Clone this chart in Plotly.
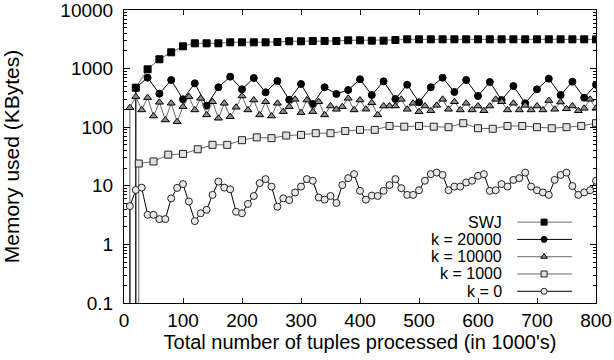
import plotly.graph_objects as go

# ---------------- data ----------------
swj_x = list(range(20, 801, 20))
swj_y = [472, 973, 1442, 1897, 2402, 2702, 2702, 2702, 2810, 2810,
         2810, 2810, 2845, 2925, 2925, 2960, 2960, 2960, 3040, 3040,
         2995, 2995, 3075, 3160, 3160, 3160, 3160, 3160, 3160, 3160,
         3160, 3160, 3160, 3160, 3160, 3160, 3160, 3160, 3160, 3160]

k20000_x = list(range(20, 801, 20))
k20000_y = [472, 700, 373, 639, 299, 561, 233, 480, 728, 443,
            691, 394, 614, 294, 546, 249, 480, 369, 431, 657,
            354, 607, 303, 531, 266, 480, 700, 399, 639, 341,
            590, 291, 505, 256, 443, 673, 354, 598, 319, 531]

k10000_x = list(range(10, 801, 10))
k10000_y = [215, 332, 197, 319, 155, 266, 133, 256, 124, 224,
            332, 197, 311, 162, 272, 142, 256, 151, 219, 341,
            197, 291, 162, 272, 155, 256, 184, 224, 299, 177,
            291, 184, 272, 162, 230, 202, 224, 311, 197, 291,
            203, 262, 162, 230, 230, 230, 299, 202, 256, 184,
            230, 191, 236, 299, 202, 272, 197, 256, 197, 230,
            191, 230, 299, 272, 197, 256, 197, 236, 197, 230,
            197, 285, 202, 269, 206, 230, 191, 210, 299, 210]

k1000_x = list(range(25, 801, 25))
k1000_y = [24, 26, 34, 35, 42, 50, 50, 60, 67, 65,
           72, 74, 79, 79, 86, 90, 90, 105, 102, 105,
           102, 100, 117, 96, 94, 105, 105, 100, 96, 100,
           105, 117]

k0_x = list(range(10, 801, 10))
k0_y = [4.5, 8.5, 9.3, 3.2, 3.2, 2.7, 2.7, 6.1, 9.2, 10.7,
        5.4, 2.5, 3.4, 3.9, 7.0, 11.8, 9.3, 8.7, 3.6, 3.4,
        4.9, 6.7, 11.1, 13.0, 9.7, 4.4, 6.1, 5.7, 7.7, 9.7,
        13.0, 12.2, 6.3, 5.8, 6.7, 5.1, 10.3, 13.5, 15.8, 8.2,
        5.8, 6.8, 6.7, 8.2, 10.3, 13.0, 9.1, 7.0, 7.0, 8.4,
        12.2, 15.8, 16.8, 15.3, 8.4, 9.7, 9.7, 11.4, 12.2, 14.8,
        15.8, 8.2, 8.4, 10.7, 9.7, 12.6, 13.5, 16.8, 9.7, 8.4,
        7.7, 7.0, 12.6, 15.3, 16.8, 9.9, 7.0, 7.7, 8.4, 12.2]

# value at start-up (practically zero memory) for each series
start_value = 0.001

names = ["SWJ", "k = 20000", "k = 10000", "k = 1000", "k = 0"]
y_tick_vals = [0.1, 1, 10, 100, 1000, 10000]
y_tick_text = ["0.1", "1", "10", "100", "1000", "10000"]
x_tick_vals = [0, 100, 200, 300, 400, 500, 600, 700, 800]

# ---------------- styles ----------------
FONT = "Liberation Sans, Arial, Helvetica, sans-serif"
FS = 19
GREY = "#6a6a6a"
styles = [
    dict(line=GREY, symbol="square", mcolor="black", mline="black", size=7),
    dict(line="black", symbol="circle", mcolor="black", mline="black", size=7),
    dict(line=GREY, symbol="triangle-up", mcolor="#8c8c8c", mline="black", size=7),
    dict(line=GREY, symbol="square", mcolor="#e0e0e0", mline="#222", size=7),
    dict(line="black", symbol="circle", mcolor="#e8e8e8", mline="#222", size=7),
]
series = [(swj_x, swj_y), (k20000_x, k20000_y), (k10000_x, k10000_y),
          (k1000_x, k1000_y), (k0_x, k0_y)]

fig = go.Figure()
for (xs, ys), st, nm in zip(series, styles, names):
    assert len(xs) == len(ys), nm
    fig.add_trace(go.Scatter(
        x=[xs[0]] + xs, y=[start_value] + ys, mode="lines+markers", name=nm,
        line=dict(color=st["line"], width=1),
        marker=dict(symbol=st["symbol"], size=st["size"], color=st["mcolor"],
                    line=dict(color=st["mline"], width=1)),
        showlegend=False, cliponaxis=True))

# ---------------- custom legend (text left of sample, like gnuplot) ----------------
leg_text_x = 0.803
leg_x0, leg_xm, leg_x1 = 0.833, 0.890, 0.949
leg_rows = [0.276, 0.217, 0.158, 0.099, 0.040]
for st, nm, ry in zip(styles, names, leg_rows):
    fig.add_trace(go.Scatter(x=[leg_x0, leg_x1], y=[ry, ry], mode="lines",
                             xaxis="x2", yaxis="y2", showlegend=False,
                             line=dict(color=st["line"], width=1), hoverinfo="skip"))
    fig.add_trace(go.Scatter(x=[leg_xm], y=[ry], mode="markers",
                             xaxis="x2", yaxis="y2", showlegend=False,
                             marker=dict(symbol=st["symbol"], size=st["size"] - 1,
                                         color=st["mcolor"],
                                         line=dict(color=st["mline"], width=1)),
                             hoverinfo="skip"))
    fig.add_annotation(x=leg_text_x, y=ry, xref="paper", yref="paper",
                       text=nm, showarrow=False, xanchor="right", yanchor="middle",
                       borderpad=0,
                       font=dict(family=FONT, size=16, color="black"))

minor_vals = [m * 10 ** e for e in range(-1, 4) for m in range(2, 10)]

fig.update_layout(
    width=614, height=360,
    margin=dict(l=124, r=18, t=10, b=57, autoexpand=False),
    paper_bgcolor="white", plot_bgcolor="white",
    font=dict(family=FONT, size=FS, color="black"),
    xaxis=dict(range=[0, 800], tickvals=x_tick_vals, ticks="inside", ticklen=5,
               tickcolor="black", showline=True, linecolor="black", linewidth=1,
               mirror="ticks", showgrid=False, zeroline=False, automargin=False,
               ticklabeloverflow="allow",
               tickfont=dict(family=FONT, size=FS),
               title=dict(text="Total number of tuples processed (in 1000's)",
                          font=dict(family=FONT, size=20), standoff=5)),
    yaxis=dict(type="log", range=[-1, 4], tickvals=y_tick_vals, ticktext=y_tick_text,
               ticks="inside", ticklen=6, tickcolor="black", showline=True,
               linecolor="black", linewidth=1, mirror="ticks", showgrid=False,
               zeroline=False, automargin=False, ticklabeloverflow="allow",
               tickfont=dict(family=FONT, size=FS),
               ticklabelstandoff=6,
               minor=dict(tickvals=minor_vals, ticks="inside", ticklen=3,
                          tickcolor="black", showgrid=False),
               title=dict(text="Memory used (KBytes)",
                          font=dict(family=FONT, size=21), standoff=38)),
    xaxis2=dict(overlaying="x", range=[0, 1], visible=False, fixedrange=True),
    yaxis2=dict(overlaying="y", range=[0, 1], visible=False, fixedrange=True),
    showlegend=False,
)

fig.write_html("out.html")
